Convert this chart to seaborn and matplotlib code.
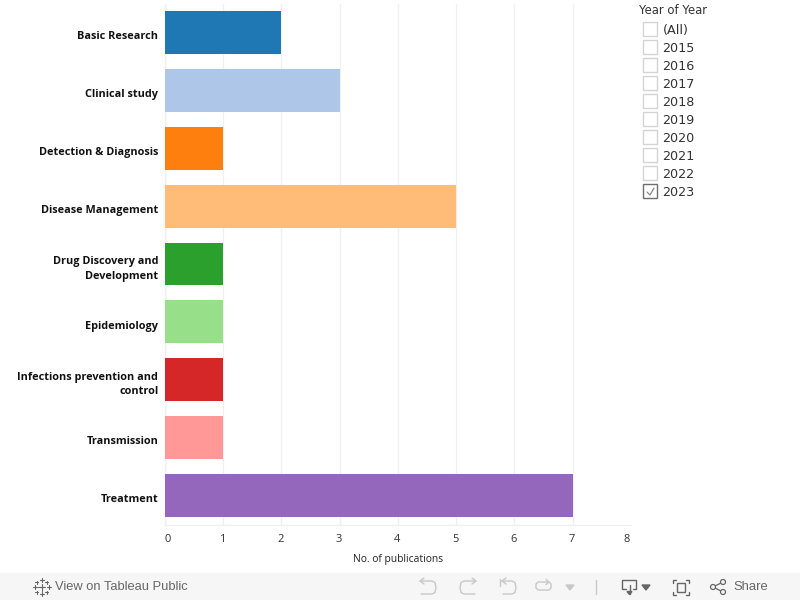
import matplotlib
matplotlib.use("Agg")

import matplotlib.pyplot as plt
from matplotlib.patches import Circle, Rectangle
from matplotlib.transforms import ScaledTranslation
import pandas as pd
import seaborn as sns

# ---------------------------------------------------------------------------
# Data
# ---------------------------------------------------------------------------

categories = [
    "Basic Research",
    "Clinical study",
    "Detection & Diagnosis",
    "Disease Management",
    "Drug Discovery and\nDevelopment",
    "Epidemiology",
    "Infections prevention and\ncontrol",
    "Transmission",
    "Treatment",
]
publications = [2, 3, 1, 5, 1, 1, 1, 1, 7]
bar_colors = [
    "#1f77b4", "#aec7e8", "#ff7f0e", "#ffbb78", "#2ca02c",
    "#98df8a", "#d62728", "#ff9896", "#9467bd",
]
x_ticks = [0, 1, 2, 3, 4, 5, 6, 7, 8]
filter_labels = ["(All)", "2015", "2016", "2017", "2018", "2019",
                 "2020", "2021", "2022", "2023"]
checked_label = "2023"

df = pd.DataFrame({"Category": categories, "Publications": publications})

W, H = 800, 600

sns.set_theme(style="white")
plt.rcParams["font.family"] = ["Open Sans", "DejaVu Sans"]

fig = plt.figure(figsize=(W / 100, H / 100), dpi=100)

# axes box in pixels: left 164.6, right 631, top 3.5, bottom 524.5
ax = fig.add_axes([164.6 / W, 1 - 524.5 / H, 466.4 / W, 521 / H])

sns.barplot(
    data=df,
    x="Publications",
    y="Category",
    hue="Category",
    palette=bar_colors,
    order=categories,
    hue_order=categories,
    dodge=False,
    legend=False,
    width=0.74,
    saturation=1,
    linewidth=0,
    ax=ax,
    zorder=3,
)

ax.set_xlim(0, 8)
ax.set_ylim(len(categories) - 0.5, -0.5)
ax.set_ylabel("")
ax.set_xlabel("No. of publications", fontsize=7.4, color="#222222", labelpad=6)

ax.set_xticks(x_ticks)
ax.set_xticklabels([str(t) for t in x_ticks], fontsize=8, color="#333333")
ax.xaxis.grid(True, color="#f0f0f0", linewidth=1)
ax.set_axisbelow(True)
ax.tick_params(axis="x", length=3.6, width=1, color="#f0f0f0", pad=3.4)
ax.tick_params(axis="y", length=0, pad=4.5)

# no grid line or tick at the far end of the axis
ax.xaxis.get_major_ticks()[-1].gridline.set_visible(False)
ax.xaxis.get_major_ticks()[-1].tick1line.set_visible(False)

# category labels sit a little below the bar centres in the original
for label in ax.get_yticklabels():
    label.set_fontsize(7.8)
    label.set_fontweight("bold")
    label.set_color("#111111")
    label.set_linespacing(1.45)
    drop = 1.5 if "\n" in label.get_text() else 2.8
    label_shift = ScaledTranslation(0, -drop / 100, fig.dpi_scale_trans)
    label.set_transform(label.get_transform() + label_shift)

# first and last labels stay inside the axis, as in the original
tick_shift = ScaledTranslation(-1 / 100, 0, fig.dpi_scale_trans)
for label in ax.get_xticklabels()[1:]:
    label.set_transform(label.get_transform() + tick_shift)
ax.get_xticklabels()[0].set_ha("left")
ax.get_xticklabels()[-1].set_ha("right")

for side in ["top", "right"]:
    ax.spines[side].set_visible(False)
for side in ["left", "bottom"]:
    ax.spines[side].set_color("#f0f0f0")
    ax.spines[side].set_linewidth(1)

# ---------------------------------------------------------------------------
# Overlay in pixel coordinates for the filter and the toolbar
# ---------------------------------------------------------------------------

over = fig.add_axes([0, 0, 1, 1], facecolor="none")
over.set_xlim(0, W)
over.set_ylim(H, 0)
over.axis("off")

filter_font = ["DejaVu Sans"]
over.text(639, 10, "Year of Year", fontsize=8.4, color="#333333",
          va="center", family=filter_font)

for i, name in enumerate(filter_labels):
    y = 29.5 + i * 18
    is_checked = name == checked_label
    over.add_patch(Rectangle(
        (643.2, y - 7.5), 14, 14, facecolor="white",
        edgecolor="#6e6e6e" if is_checked else "#d4d4d4", linewidth=1,
    ))
    if is_checked:
        over.plot([647, 650, 654], [y + 0.5, y + 3.5, y - 3.5],
                  color="#888888", linewidth=0.9)
    over.text(662.5, y + 0.8, name, fontsize=9.2, color="#333333", va="center",
              family=filter_font)

# toolbar band
over.add_patch(Rectangle((0, 573), W, 27, facecolor="#f6f6f6", edgecolor="none"))
icon_grey = "#666666"
faint_grey = "#c8c8c8"

# tableau logo
logo_marks = [(41.5, 587, 3.5), (34.5, 587, 2), (48.5, 587, 2), (41.5, 580, 2),
              (41.5, 594, 2), (36.5, 582, 1.5), (46.5, 582, 1.5),
              (36.5, 592, 1.5), (46.5, 592, 1.5)]
for cx, cy, r in logo_marks:
    over.plot([cx - r, cx + r], [cy, cy], color=icon_grey, linewidth=0.8)
    over.plot([cx, cx], [cy - r, cy + r], color=icon_grey, linewidth=0.8)

over.text(55, 587, "View on Tableau Public", fontsize=9.3, color="#666666",
          va="center", family=["Liberation Sans"])
over.text(733, 587, "Share", fontsize=9.4, color="#666666", va="center",
          family=["Liberation Sans"])


def arrow_curve(tip, bend, flip):
    # top run, rounded end and bottom run of the undo style icons
    xs = [tip, bend, bend + 3 * flip, bend + 4 * flip, bend + 3 * flip, bend, tip + flip]
    ys = [581, 581, 582.5, 587.5, 592.5, 594, 594]
    over.plot(xs, ys, color=faint_grey, linewidth=1)
    over.plot([tip + 4 * flip, tip, tip + 4 * flip], [578, 581, 584],
              color=faint_grey, linewidth=1)


arrow_curve(420, 432, 1)
arrow_curve(476, 464, -1)
arrow_curve(502, 512, 1)
over.plot([500, 500], [579, 586], color=faint_grey, linewidth=1)

# refresh
over.plot([548, 538, 536, 536, 538, 549, 551, 551, 549],
          [582, 582, 584, 588, 590, 590, 588, 584, 582],
          color=faint_grey, linewidth=1)
over.plot([546, 549, 546], [579.5, 582, 584.5], color=faint_grey, linewidth=1)
over.fill([566, 574, 570], [585, 585, 590], color=faint_grey)
over.plot([595.5, 595.5], [580, 594], color=faint_grey, linewidth=1)

# download
over.plot([626, 622, 622, 636, 636, 633], [589, 589, 580, 580, 589, 589],
          color=icon_grey, linewidth=1)
over.plot([629.5, 629.5], [585, 594], color=icon_grey, linewidth=1)
over.fill([627, 632, 629.5], [591.5, 591.5, 594.5], color=icon_grey)
over.fill([642, 650, 646], [585, 585, 590], color=icon_grey)

# fullscreen
over.add_patch(Rectangle((677, 583), 8, 9, facecolor="none",
                         edgecolor=icon_grey, linewidth=1))
for x0, dx in [(673, 3), (689, -3)]:
    for y0, dy in [(580, 3), (595, -3)]:
        over.plot([x0 + dx, x0, x0], [y0, y0, y0 + dy], color=icon_grey, linewidth=1)

# share
share_nodes = [(713, 587), (723, 582), (723, 592)]
over.plot([723, 713, 723], [582, 587, 592], color=icon_grey, linewidth=0.9)
for cx, cy in share_nodes:
    over.add_patch(Circle((cx, cy), 2.5, facecolor="#f6f6f6",
                          edgecolor=icon_grey, linewidth=0.9, zorder=3))

fig.savefig("out.png", dpi=100)
